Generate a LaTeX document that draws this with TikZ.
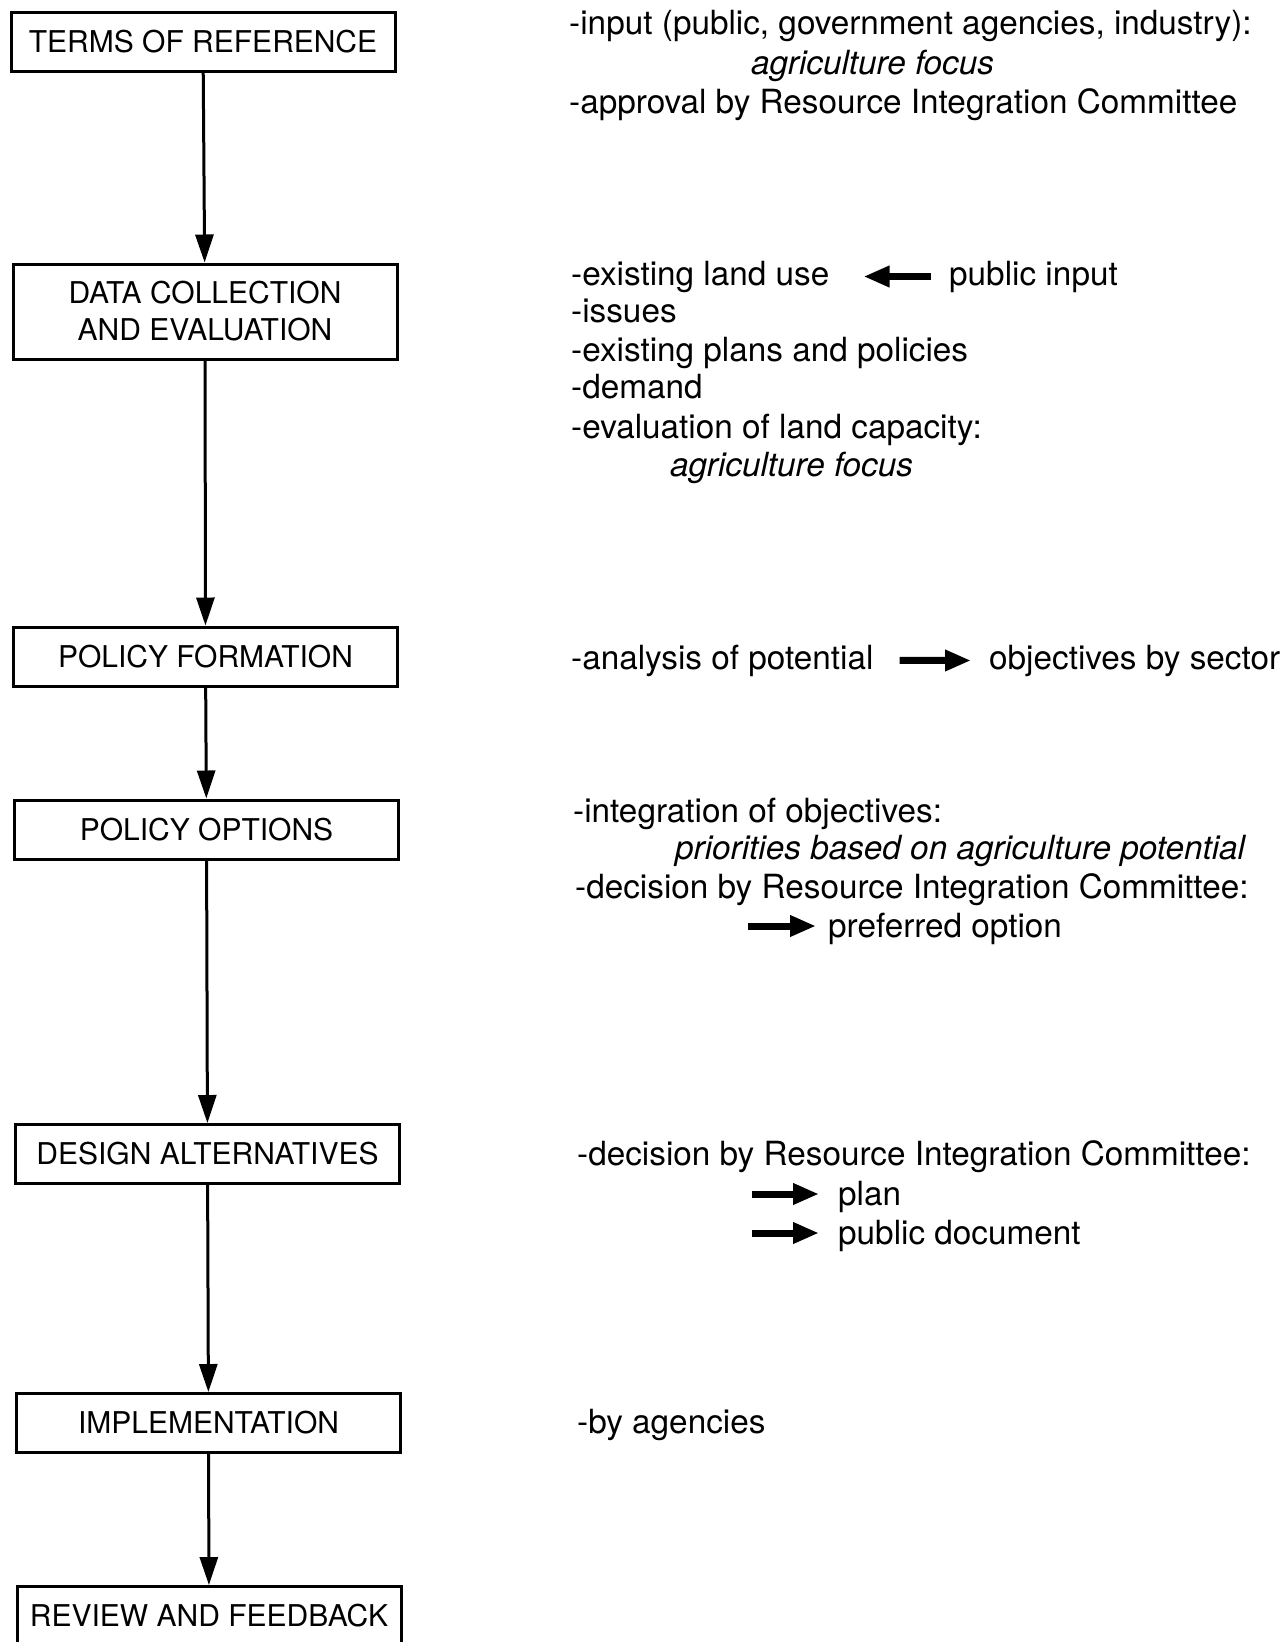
\documentclass[tikz,border=0pt]{standalone}
\usepackage{fontspec}
\setmainfont{TeX Gyre Heros}
\usetikzlibrary{arrows.meta,positioning}

\begin{document}
\begin{tikzpicture}[
x=1pt, y=-1pt,
stage/.style={
  draw,
  line width=3pt,
  minimum width=384pt,
  minimum height=59pt,
  inner sep=0pt,
  align=center,
  font=\fontsize{30}{37}\selectfont
  },
notes/.style={
  anchor=base west,
  inner sep=0pt,
  font=\fontsize{33.3}{40}\selectfont
  },
italicnote/.style={
  notes,
  font=\fontsize{33.3}{40}\selectfont\itshape
  },
fat/.style={
  line width=7pt,
  -{Triangle[length=26pt,width=20pt]}
  },
>={Triangle[length=28pt,width=18pt]}
]
\useasboundingbox (0,0) rectangle (1288,1642);

% stages
\node[stage] (terms) at (203,41.5) {TERMS OF REFERENCE};
\node[stage, minimum height=95pt] (data) at (205,311.5) {DATA COLLECTION\\AND EVALUATION};
\node[stage] (formation) at (205.5,656.5) {POLICY FORMATION};
\node[stage] (options) at (206.5,829.5) {POLICY OPTIONS};
\node[stage] (design) at (207.5,1154) {DESIGN ALTERNATIVES};
\node[stage] (impl) at (208.5,1423) {IMPLEMENTATION};
\node[stage] (review) at (209,1616) {REVIEW AND FEEDBACK};

\foreach \a/\b in {terms/data,data/formation,formation/options,options/design,design/impl,impl/review}
  \draw[->, line width=3pt] (\a) -- (\b);

% notes beside the stages
\node[notes] (input) at (569,34) {-input (public, government agencies, industry):};
\node[italicnote] (focusA) at (751,74) {agriculture focus};
\node[notes] (approval) at (569,113) {-approval by Resource Integration Committee};

\node[notes] (landuse) at (571,285) {-existing land use};
\node[notes] (pubin) at (949,285) {public input};
\node[notes] (issues) at (571,322) {-issues};
\node[notes] (plans) at (571,361) {-existing plans and policies};
\node[notes] (demand) at (571,398) {-demand};
\node[notes] (capacity) at (571,438) {-evaluation of land capacity:};
\node[italicnote] (focusB) at (670,476) {agriculture focus};
\draw[fat, shorten <=18pt, shorten >=34pt] (pubin.west) -- (landuse.east);

\node[notes] (potential) at (571,669) {-analysis of potential};
\node[notes] (sector) at (989,669) {objectives by sector};
\draw[fat, shorten <=26pt, shorten >=18pt] (potential.east) -- (sector.west);

\node[notes] (integr) at (573,822) {-integration of objectives:};
\node[italicnote] (priorities) at (675,859) {priorities based on agriculture potential};
\node[notes] (decisionA) at (575,898) {-decision by Resource Integration Committee:};
\coordinate (prefTail) at (748,926);
\node[notes] (preferred) at (828,937) {preferred option};
\draw[fat, shorten >=12pt] (prefTail) -- (prefTail -| preferred.west);

\node[notes] (decisionB) at (577,1165) {-decision by Resource Integration Committee:};
\coordinate (planTail) at (752,1194);
\node[notes] (plan) at (838,1205) {plan};
\coordinate (docTail) at (752,1233);
\node[notes] (pubdoc) at (838,1244) {public document};
\draw[fat, shorten >=19pt] (planTail) -- (planTail -| plan.west);
\draw[fat, shorten >=19pt] (docTail) -- (docTail -| pubdoc.west);

\node[notes] (agencies) at (577,1433) {-by agencies};

\end{tikzpicture}
\end{document}
